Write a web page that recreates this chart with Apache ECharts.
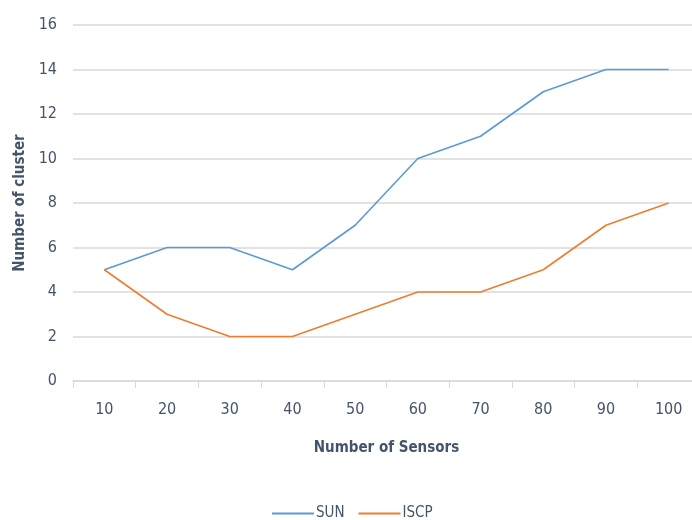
<!DOCTYPE html>
<html>
<head>
<meta charset="utf-8">
<script src="https://cdn.jsdelivr.net/npm/echarts@6/dist/echarts.min.js"></script>
<style>
  html, body { margin: 0; padding: 0; background: #fff; }
  #chart { width: 692px; height: 520px; }
</style>
</head>
<body>
<div id="chart"></div>
<script>
// Number of sensors on the x axis
const sensors = ['10', '20', '30', '40', '50', '60', '70', '80', '90', '100'];
// Cluster counts per protocol
const sunValues = [5, 6, 6, 5, 7, 10, 11, 13, 14, 14];
const iscpValues = [5, 3, 2, 2, 3, 4, 4, 5, 7, 8];

const textColor = '#44546A';
const fontFam = '"DejaVu Sans Condensed", "Liberation Sans Narrow", sans-serif';

const chart = echarts.init(document.getElementById('chart'));
chart.setOption({
  animation: false,
  textStyle: { fontFamily: fontFam },
  grid: { left: 73, top: 25, width: 627, height: 356, containLabel: false, outerBoundsMode: 'none' },
  legend: {
    bottom: -6,
    left: 267,
    itemWidth: 42,
    itemHeight: 2,
    itemGap: 14,
    icon: 'rect',
    textStyle: { color: textColor, fontSize: 15, fontFamily: fontFam, padding: [0, 0, 0, -3] },
    data: ['SUN', 'ISCP']
  },
  xAxis: {
    type: 'category',
    data: sensors,
    boundaryGap: true,
    name: 'Number of Sensors',
    nameLocation: 'middle',
    nameGap: 60,
    nameTextStyle: { color: textColor, fontSize: 15, fontWeight: 'bold', fontFamily: fontFam },
    axisLine: { lineStyle: { color: '#D9D9D9', width: 1.5 } },
    axisTick: { show: true, length: 7, lineStyle: { color: '#D9D9D9' } },
    axisLabel: { color: textColor, fontSize: 16, margin: 21, fontFamily: fontFam }
  },
  yAxis: {
    type: 'value',
    min: 0,
    max: 16,
    interval: 2,
    name: 'Number of cluster',
    nameLocation: 'middle',
    nameGap: 45,
    nameTextStyle: { color: textColor, fontSize: 15, fontWeight: 'bold', fontFamily: fontFam },
    axisLine: { show: false },
    axisTick: { show: false },
    axisLabel: { color: textColor, fontSize: 16, margin: 16, fontFamily: fontFam },
    splitLine: { lineStyle: { color: '#D9D9D9', width: 1.5 } }
  },
  series: [
    {
      name: 'SUN',
      type: 'line',
      data: sunValues,
      symbol: 'none',
      lineStyle: { color: '#5B9BD5', width: 1.6 },
      itemStyle: { color: '#5B9BD5' }
    },
    {
      name: 'ISCP',
      type: 'line',
      data: iscpValues,
      symbol: 'none',
      lineStyle: { color: '#ED7D31', width: 1.6 },
      itemStyle: { color: '#ED7D31' }
    }
  ]
});
</script>
</body>
</html>
